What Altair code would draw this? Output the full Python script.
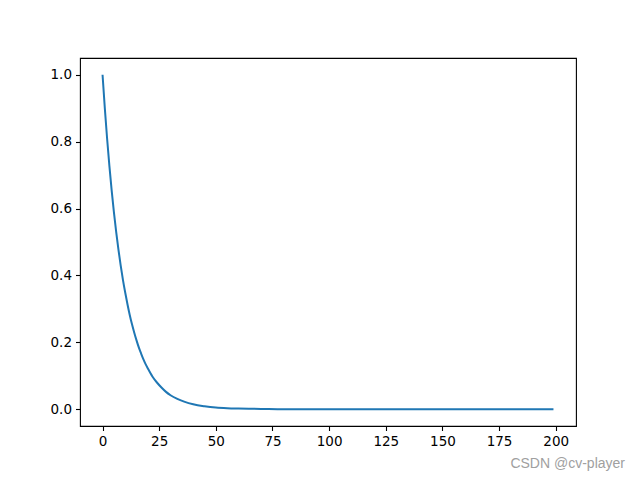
import altair as alt
import pandas as pd

# values
xs = [0, 1, 2, 3, 4, 5, 6, 7, 8, 9, 10, 11, 12, 13, 14, 15, 16, 17, 18, 19, 20,
      22, 24, 26, 28, 30, 33, 36, 40, 45, 50, 55, 60, 70, 80, 100, 125, 150, 175, 199]
ys = [1.0, 0.9, 0.81, 0.729, 0.656, 0.59, 0.531, 0.478, 0.43, 0.387, 0.349, 0.314,
      0.282, 0.254, 0.229, 0.206, 0.185, 0.167, 0.15, 0.135, 0.122,
      0.098, 0.08, 0.065, 0.052, 0.042, 0.031, 0.023, 0.015, 0.009, 0.005, 0.003,
      0.002, 0.001, 0.0, 0.0, 0.0, 0.0, 0.0, 0.0]
x_ticks = [0, 25, 50, 75, 100, 125, 150, 175, 200]
y_ticks = [0.0, 0.2, 0.4, 0.6, 0.8, 1.0]
watermark = ["CSDN @cv-player"]

df = pd.DataFrame({"x": xs, "y": ys})

axis_common = dict(
    domain=False, grid=False, ticks=True, tickColor="black", tickSize=4.5,
    tickWidth=1.1, labelFont="DejaVu Sans", labelFontSize=13.5, labelColor="black",
    labelPadding=4, title=None,
)

line = alt.Chart(df).mark_line(color="#1f77b4", strokeWidth=2, interpolate="monotone").encode(
    x=alt.X("x:Q", scale=alt.Scale(domain=[-9.95, 208.95], nice=False, zero=False),
            axis=alt.Axis(values=x_ticks, format="d", **axis_common)),
    y=alt.Y("y:Q", scale=alt.Scale(domain=[-0.05, 1.05], nice=False, zero=False),
            axis=alt.Axis(values=y_ticks, format=".1f", **axis_common)),
)

wm = alt.Chart(pd.DataFrame({"t": watermark})).mark_text(
    align="right", baseline="alphabetic", font="Liberation Sans", fontSize=14, color="#a0a0a0"
).encode(text="t:N", x=alt.value(545), y=alt.value(410))

chart = alt.layer(line, wm).properties(
    width=496, height=368,
    autosize=alt.AutoSizeParams(type="none"),
    padding={"left": 72, "top": 50, "right": 56, "bottom": 50},
).configure(
    background="white",
    view=alt.ViewConfig(stroke="black", strokeWidth=1.1),
)

chart.save("out.html", embed_options={"renderer": "svg", "actions": False})
